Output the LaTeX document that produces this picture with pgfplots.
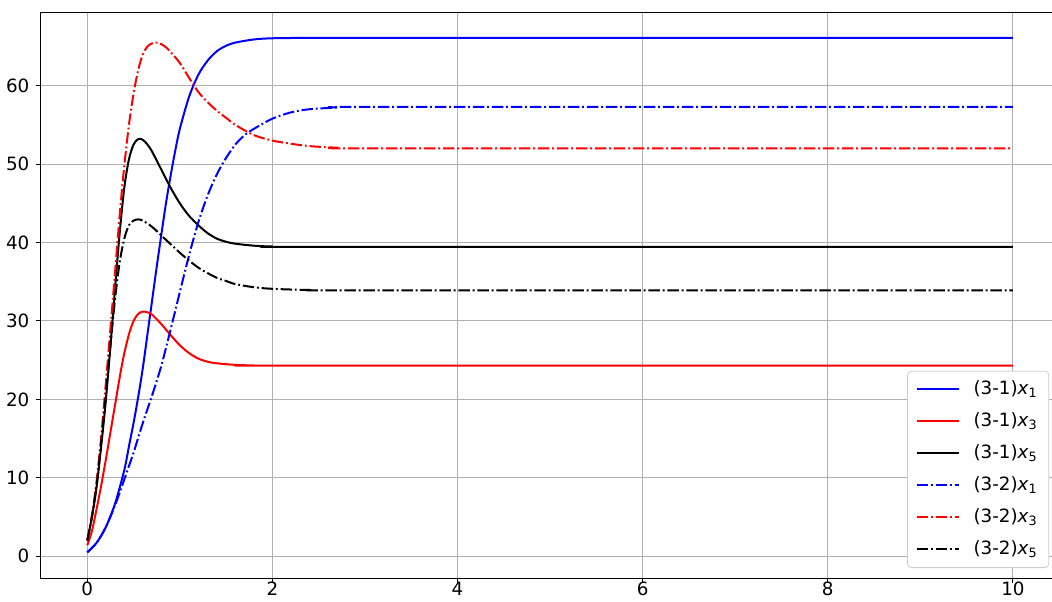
\documentclass[border=0pt]{standalone}
\usepackage{pgfplots}
\pgfplotsset{compat=1.18}
\usepackage{fontspec}
\setmainfont{DejaVu Sans}
\newcommand\tickfont{\fontsize{9.15pt}{11pt}\selectfont}
\definecolor{gridgray}{HTML}{B0B0B0}
\definecolor{leggray}{HTML}{CCCCCC}
\tikzset{dashdot/.style={dash pattern=on 5.7pt off 1.45pt on 0.9pt off 1.45pt}}
\begin{document}
\begin{tikzpicture}
\begin{axis}[
  at={(0,0)}, anchor=south west,
  scale only axis, width=509.1pt, height=283pt,
  xmin=-0.5, xmax=10.5, ymin=-2.78, ymax=69.4,
  xtick={0,2,4,6,8,10}, ytick={0,10,20,30,40,50,60},
  xtick pos=bottom, ytick pos=left,
  grid=major, grid style={color=gridgray, line width=0.5pt},
  axis line style={line width=0.5pt},
  tick align=outside, major tick length=2.3pt,
  tick style={black, line width=0.5pt},
  ticklabel style={font=\tickfont},
  xticklabel style={yshift=0.6pt, inner sep=0pt, text depth=0pt},
  /pgf/number format/assume math mode=true,
  every axis plot/.append style={line width=1pt, no markers},
  legend cell align=left,
  legend image code/.code={\draw[#1] (0pt,0pt) -- (21pt,0pt);},
  legend style={at={(1,0)}, anchor=south east, xshift=-5pt, yshift=5pt,
    font=\tickfont, draw=leggray, rounded corners=2pt,
    inner xsep=4pt, inner ysep=3pt, row sep=3.8pt,
    nodes={text height=7pt, text depth=2.2pt, inner sep=1.5pt},
    /tikz/every odd column/.append style={column sep=5.5pt}},
]
% (3-1) x1
\addplot[blue, smooth] coordinates {(0,0.5) (0.1,1.7) (0.2,3.7) (0.3,6.7) (0.4,11.0) (0.45,14.0) (0.5,17.0) (0.55,20.3) (0.6,24.0) (0.65,28.3) (0.7,32.6) (0.75,36.9) (0.8,41.0) (0.85,45.0) (0.9,48.5) (0.95,51.7) (1.0,54.5) (1.1,58.6) (1.2,61.4) (1.3,63.2) (1.4,64.4) (1.5,65.1) (1.6,65.5) (1.8,65.9) (2.0,66.05) (2.4,66.1) (3,66.1) (10,66.1)};
\addlegendentry{(3-1)\textit{x}\textsubscript{1}}
% (3-1) x3
\addplot[red, smooth] coordinates {(0,1.4) (0.05,3.2) (0.1,6.0) (0.15,9.0) (0.2,12.3) (0.25,15.8) (0.3,19.3) (0.35,22.8) (0.4,25.9) (0.45,28.3) (0.5,30.0) (0.55,30.9) (0.6,31.2) (0.65,31.1) (0.7,30.8) (0.8,29.6) (0.9,28.2) (1.0,26.9) (1.1,25.9) (1.2,25.2) (1.3,24.8) (1.4,24.6) (1.6,24.4) (1.8,24.33) (2.2,24.3) (10,24.3)};
\addlegendentry{(3-1)\textit{x}\textsubscript{3}}
% (3-1) x5
\addplot[black, smooth] coordinates {(0,2.0) (0.05,5.0) (0.1,8.8) (0.15,14.0) (0.2,19.8) (0.25,26.8) (0.3,34.2) (0.35,41.2) (0.4,47.0) (0.45,50.6) (0.5,52.5) (0.55,53.2) (0.6,53.1) (0.65,52.5) (0.7,51.6) (0.8,49.3) (0.9,47.0) (1.0,45.0) (1.1,43.4) (1.2,42.2) (1.3,41.2) (1.4,40.5) (1.5,40.1) (1.6,39.85) (1.8,39.6) (2.0,39.5) (2.5,39.45) (10,39.45)};
\addlegendentry{(3-1)\textit{x}\textsubscript{5}}
% (3-2) x1
\addplot[blue, dashdot, smooth] coordinates {(0,0.5) (0.1,1.7) (0.2,3.7) (0.3,6.5) (0.35,8.1) (0.4,9.8) (0.45,11.5) (0.5,13.2) (0.6,17.0) (0.7,20.5) (0.8,24.3) (0.9,28.9) (1.0,33.7) (1.1,38.4) (1.2,42.6) (1.3,46.0) (1.4,48.7) (1.5,50.8) (1.6,52.5) (1.7,53.7) (1.8,54.5) (2.0,55.8) (2.2,56.6) (2.4,57.0) (2.7,57.2) (3.2,57.3) (10,57.3)};
\addlegendentry{(3-2)\textit{x}\textsubscript{1}}
% (3-2) x3
\addplot[red, dashdot, smooth] coordinates {(0,2.0) (0.05,5.2) (0.1,9.5) (0.15,15.2) (0.2,22.0) (0.25,29.0) (0.3,36.2) (0.35,43.5) (0.4,49.8) (0.45,55.0) (0.5,59.0) (0.55,62.0) (0.6,64.0) (0.65,65.0) (0.7,65.4) (0.75,65.5) (0.8,65.3) (0.85,64.9) (0.9,64.3) (1.0,62.9) (1.1,61.0) (1.2,59.2) (1.3,57.9) (1.4,56.8) (1.5,55.9) (1.6,55.0) (1.8,53.7) (2.0,53.0) (2.2,52.6) (2.4,52.3) (2.7,52.1) (3.2,52.0) (10,52.0)};
\addlegendentry{(3-2)\textit{x}\textsubscript{3}}
% (3-2) x5
\addplot[black, dashdot, smooth] coordinates {(0,2.0) (0.05,5.0) (0.1,9.0) (0.15,14.5) (0.2,20.5) (0.25,26.8) (0.3,32.8) (0.35,37.5) (0.4,40.5) (0.45,42.2) (0.5,42.8) (0.55,42.95) (0.6,42.8) (0.7,42.0) (0.8,40.9) (0.9,39.8) (1.0,38.7) (1.1,37.7) (1.2,36.8) (1.3,36.1) (1.4,35.5) (1.5,35.1) (1.6,34.7) (1.8,34.3) (2.0,34.1) (2.4,33.95) (3,33.9) (10,33.9)};
\addlegendentry{(3-2)\textit{x}\textsubscript{5}}
\end{axis}
\pgfresetboundingbox
\useasboundingbox (-20.5pt,-11.5pt) rectangle (505.5pt,289pt);
\end{tikzpicture}
\end{document}
